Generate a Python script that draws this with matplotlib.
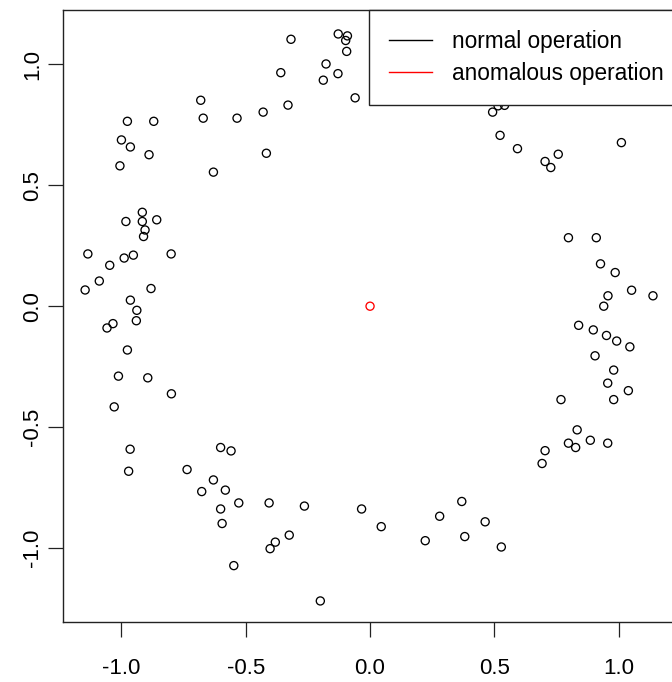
import matplotlib
matplotlib.use("Agg")
import matplotlib.pyplot as plt
from matplotlib.lines import Line2D

plt.rcParams['font.family'] = ['Liberation Sans', 'DejaVu Sans']
plt.rcParams['axes.unicode_minus'] = False

# normal operation samples (x, y)
normal_x = [-0.318, -0.128, -0.091, -0.098, -0.094, -0.177, -0.359, -0.129, -0.188, -0.060,
            -0.681, -0.330, -0.976, -0.870, -0.671, -0.535, -0.430, -1.000, -0.964, -0.889,
            -1.006, -0.417, -0.630, -0.916, -0.982, -0.916, -0.858, -0.905, -0.911, -1.135,
            -0.952, -0.989, -0.800, -1.047, -1.089, -1.146, -0.881, -0.964, -0.938, -0.940,
            -1.034, -1.058, -0.976, -1.012, -0.894, -0.799, -1.029, -0.965, -0.971, -0.736,
            -0.601, -0.559, -0.630, -0.677, -0.582, -0.528, -0.601, -0.595, -0.406, -0.264,
            -0.034, -0.325, -0.381, -0.402, -0.548, -0.200, 0.045, 0.222, 0.280, 0.369,
            0.381, 0.463, 0.528, 0.692, 0.704, 0.768, 0.798, 0.827, 0.833, 0.886,
            0.956, 0.980, 0.956, 1.039, 0.980, 0.905, 0.839, 0.898, 0.951, 0.992,
            1.045, 0.940, 0.957, 1.052, 1.138, 0.927, 0.986, 0.798, 0.910, 0.704,
            0.727, 0.757, 0.593, 0.523, 0.493, 0.515, 0.541, 0.429, 1.011]
normal_y = [1.103, 1.125, 1.117, 1.098, 1.053, 1.001, 0.965, 0.961, 0.934, 0.861,
            0.851, 0.831, 0.764, 0.764, 0.777, 0.777, 0.802, 0.687, 0.658, 0.626,
            0.580, 0.632, 0.554, 0.388, 0.350, 0.350, 0.357, 0.315, 0.288, 0.216,
            0.211, 0.199, 0.216, 0.169, 0.104, 0.067, 0.073, 0.025, -0.017, -0.060,
            -0.072, -0.090, -0.181, -0.289, -0.296, -0.362, -0.416, -0.591, -0.682, -0.675,
            -0.584, -0.598, -0.718, -0.766, -0.760, -0.813, -0.838, -0.898, -0.813, -0.826,
            -0.838, -0.946, -0.975, -1.002, -1.072, -1.218, -0.911, -0.969, -0.868, -0.807,
            -0.952, -0.891, -0.995, -0.650, -0.597, -0.386, -0.566, -0.584, -0.511, -0.554,
            -0.566, -0.386, -0.318, -0.349, -0.264, -0.205, -0.079, -0.098, -0.121, -0.144,
            -0.168, 0.000, 0.043, 0.066, 0.043, 0.175, 0.139, 0.283, 0.283, 0.598,
            0.573, 0.628, 0.651, 0.706, 0.802, 0.828, 0.830, 0.852, 0.676]

# anomalous operation sample
anomaly_x = [0.0]
anomaly_y = [0.0]

ticks = [-1.0, -0.5, 0.0, 0.5, 1.0]
tick_labels = ['-1.0', '-0.5', '0.0', '0.5', '1.0']
legend_labels = ['normal operation', 'anomalous operation']

fig = plt.figure(figsize=(6.72, 6.82), dpi=100)
ax = fig.add_axes([63 / 672, 60 / 682, 612.6 / 672, 612 / 682])

ax.scatter(normal_x, normal_y, s=34, facecolors='none', edgecolors='black', linewidths=0.95, zorder=2)
ax.scatter(anomaly_x, anomaly_y, s=34, facecolors='none', edgecolors='red', linewidths=0.95, zorder=2)

ax.set_xlim(-1.235, 1.229)
ax.set_ylim(-1.305, 1.224)

ax.set_xticks(ticks)
ax.set_xticklabels(tick_labels)
ax.set_yticks(ticks)
ax.set_yticklabels(tick_labels, rotation=90, va='center')
ax.tick_params(axis='both', length=11, width=0.9, labelsize=16, color='#222222')
ax.tick_params(axis='x', pad=15)
ax.tick_params(axis='y', pad=3.5)
for sp in ax.spines.values():
    sp.set_linewidth(1.0)
    sp.set_color('#222222')

# legend box runs past the right edge of the canvas
handles = [Line2D([], [], color='black', lw=1.0),
           Line2D([], [], color='red', lw=1.0)]
leg = ax.legend(handles, legend_labels, loc='upper right', bbox_to_anchor=(1.0132, 1),
                borderaxespad=0, fontsize=16.3, fancybox=False, framealpha=1,
                edgecolor='#222222', borderpad=0.9, labelspacing=0.38,
                handlelength=1.88, handletextpad=0.88)
leg.get_frame().set_linewidth(1.0)
leg.set_zorder(5)

fig.savefig('out.png', dpi=100)
